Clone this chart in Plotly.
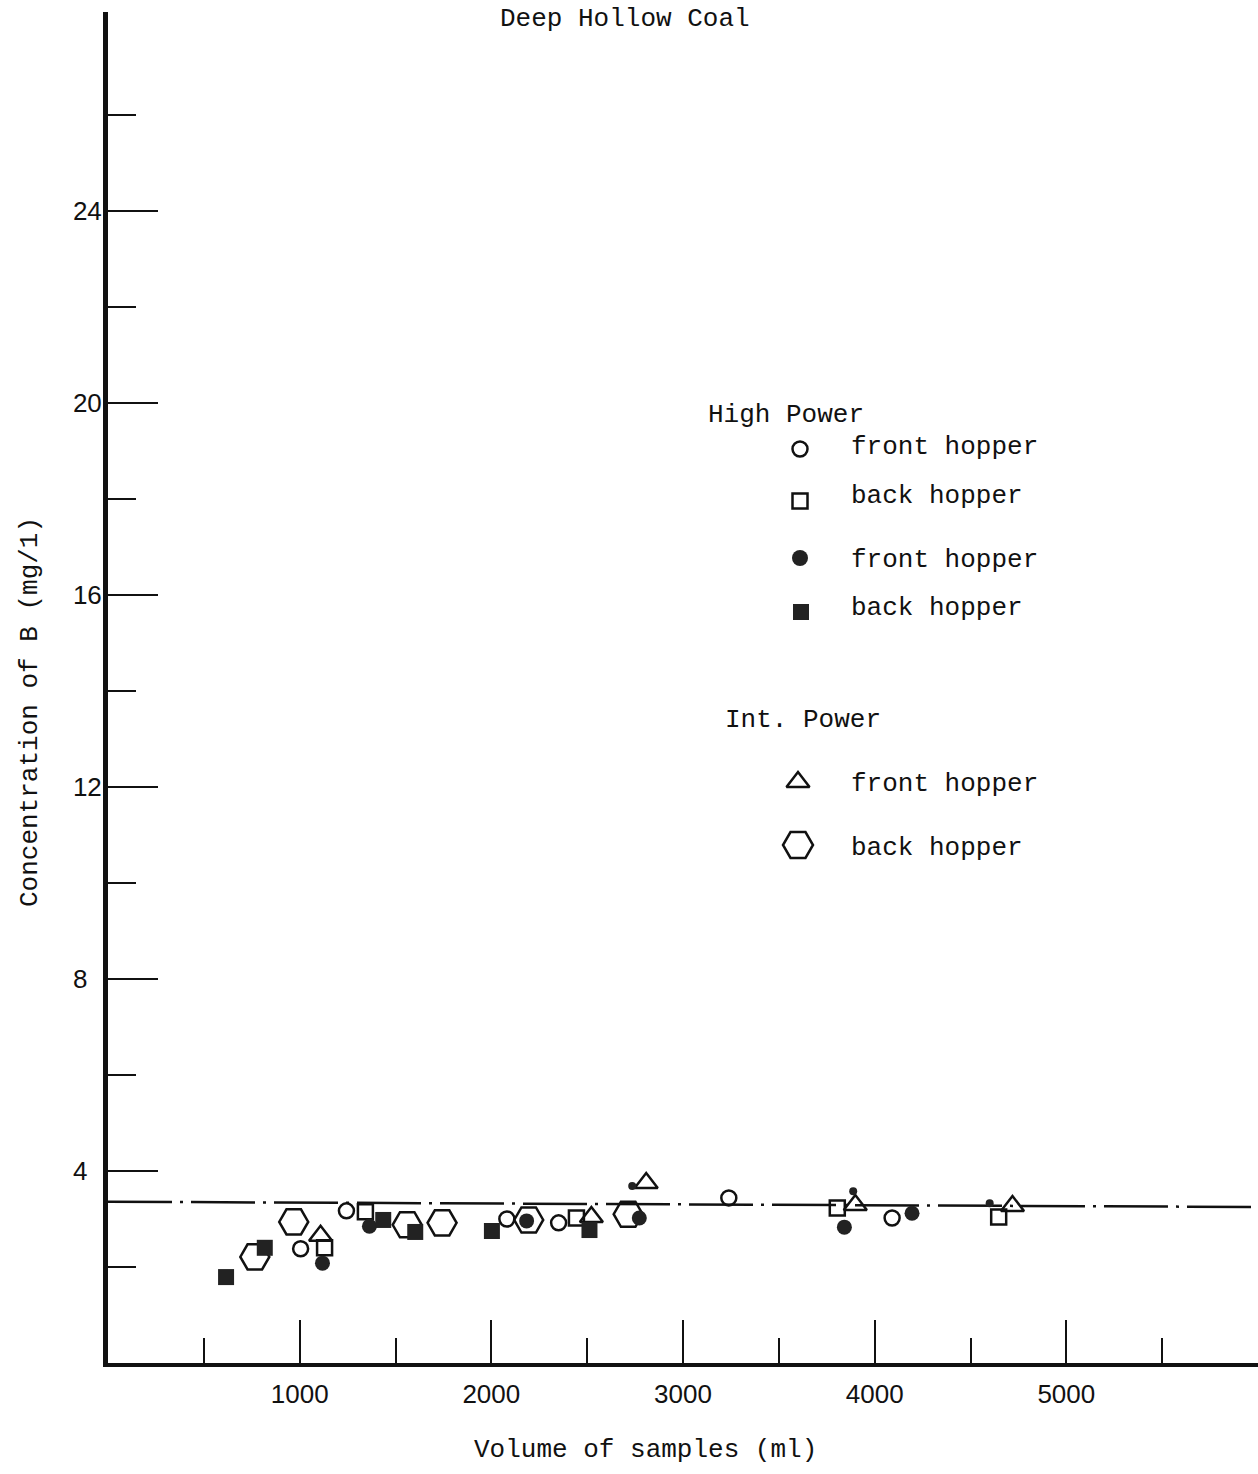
import plotly.graph_objects as go

# ---------------- data ----------------
# High Power, front hopper (open circles)
hp_front_open_x = [1005, 1244, 2081, 2351, 3239, 4091]
hp_front_open_y = [2.38, 3.17, 3.00, 2.92, 3.44, 3.02]
# High Power, back hopper (open squares)
hp_back_open_x = [1130, 1343, 2444, 3805, 4647]
hp_back_open_y = [2.40, 3.15, 3.02, 3.23, 3.04]
# front hopper (filled circles)
front_filled_x = [1119, 1364, 2184, 2772, 3842, 4195]
front_filled_y = [2.08, 2.85, 2.96, 3.02, 2.83, 3.12]
# back hopper (filled squares)
back_filled_x = [616, 818, 1436, 1603, 2003, 2512]
back_filled_y = [1.79, 2.40, 2.98, 2.73, 2.75, 2.77]
# Int. Power, front hopper (triangles)
int_front_x = [1109, 2522, 2808, 3899, 4719]
int_front_y = [2.65, 3.04, 3.75, 3.29, 3.27]
# Int. Power, back hopper (hexagons)
int_back_x = [766, 969, 1561, 1743, 2195, 2714]
int_back_y = [2.21, 2.94, 2.88, 2.92, 2.98, 3.10]
# small unlabelled filled marks
small_x = [2735, 3888, 4600]
small_y = [3.69, 3.58, 3.33]
# mean line (dash-dot)
mean_x = [0, 6000]
mean_y = [3.36, 3.25]

x_major = [1000, 2000, 3000, 4000, 5000, 6000]
x_major_text = ["1000", "2000", "3000", "4000", "5000", ""]
x_minor = [500, 1500, 2500, 3500, 4500, 5500]
y_major = [4, 8, 12, 16, 20, 24]
y_major_text = ["4\u2007", "8\u2007", "12", "16", "20", "24"]
y_minor = [2, 6, 10, 14, 18, 22, 26]

title_text = "Deep Hollow Coal"
x_title = "Volume of samples (ml)"
y_title = "Concentration of B (mg/1)"
legend_groups = ["High Power", "Int. Power"]
legend_labels = ["front hopper", "back hopper", "front hopper", "back hopper",
                 "front hopper", "back hopper"]

# ---------------- figure ----------------
W, H = 1258, 1474
ML, MR, MT, MB = 108, 0, 12, 111
PX_PER_Y = 48.0
y_top = (H - MT - MB) / PX_PER_Y

MONO = "Courier New, Liberation Mono, monospace"
SANS = "Liberation Sans, Arial, sans-serif"
INK = "#111111"
FILL = "#222222"


def px2paper(px, py):
    return (px - ML) / (W - ML - MR), (H - MB - py) / (H - MT - MB)


fig = go.Figure()

fig.add_trace(go.Scatter(x=mean_x, y=mean_y, mode="lines",
                         line=dict(color=INK, width=2.5, dash="64px,8px,3px,8px"),
                         hoverinfo="skip", showlegend=False))


def pts(x, y, symbol, size, filled=False, lw=2.5):
    fig.add_trace(go.Scatter(
        x=x, y=y, mode="markers", showlegend=False, cliponaxis=False,
        marker=dict(symbol=symbol, size=size,
                    color=FILL if filled else INK,
                    line=dict(color=INK, width=0 if filled else lw))))


pts(int_back_x, int_back_y, "hexagon2-open", 29)
pts(hp_front_open_x, hp_front_open_y, "circle-open", 15)
pts(hp_back_open_x, hp_back_open_y, "square-open", 15)
pts(int_front_x, int_front_y, "triangle-up-open", 20)
pts(front_filled_x, front_filled_y, "circle", 15, filled=True)
pts(back_filled_x, back_filled_y, "square", 16, filled=True)
pts(small_x, small_y, "circle", 8, filled=True)

# ---- legend drawn on an overlay axis whose units are page pixels ----
leg_sym = ["circle-open", "square-open", "circle", "square", "triangle-up-open", "hexagon2-open"]
leg_size = [15, 15, 16, 16, 20, 30]
leg_fill = [False, False, True, True, False, False]
leg_px = [800, 800, 800, 801, 798, 798]
leg_py = [449, 501, 558, 612, 782, 845]
leg_ty = [447, 496, 560, 608, 784, 848]
for s, sz, f, px, py in zip(leg_sym, leg_size, leg_fill, leg_px, leg_py):
    fig.add_trace(go.Scatter(
        x=[px], y=[py], xaxis="x2", yaxis="y2", mode="markers", showlegend=False,
        hoverinfo="skip", cliponaxis=False,
        marker=dict(symbol=s, size=sz, color=FILL if f else INK,
                    line=dict(color=INK, width=0 if f else 2.5))))

ann = []


def text_at(px, py, text, xanchor="left", angle=0):
    xp, yp = px2paper(px, py)
    ann.append(dict(x=xp, y=yp, xref="paper", yref="paper", text=text, showarrow=False,
                    xanchor=xanchor, yanchor="middle", textangle=angle,
                    font=dict(family=MONO, size=26, color=INK)))


for lab, ty in zip(legend_labels, leg_ty):
    text_at(849, ty, lab)
text_at(706, 415, legend_groups[0])
text_at(723, 720, legend_groups[1])
text_at(625, 19, title_text, xanchor="center")
text_at(645, 1450, x_title, xanchor="center")
text_at(30, 712, y_title, xanchor="center", angle=-90)

fig.update_layout(
    width=W, height=H, autosize=False,
    margin=dict(l=ML, r=MR, t=MT, b=MB, pad=0),
    paper_bgcolor="white", plot_bgcolor="white",
    showlegend=False,
    annotations=ann,
    xaxis=dict(range=[0, 6000], showgrid=False, zeroline=False,
               showline=True, linecolor=INK, linewidth=4,
               tickmode="array", tickvals=x_major, ticktext=x_major_text,
               ticks="inside", ticklen=43, tickwidth=2, tickcolor=INK,
               ticklabelstandoff=5,
               tickfont=dict(family=SANS, size=26, color=INK),
               minor=dict(tickmode="array", tickvals=x_minor, ticks="inside",
                          ticklen=25, tickwidth=2, tickcolor=INK)),
    yaxis=dict(range=[0, y_top], showgrid=False, zeroline=False,
               showline=True, linecolor=INK, linewidth=5,
               tickmode="array", tickvals=y_major, ticktext=y_major_text,
               ticks="inside", ticklen=50, tickwidth=2, tickcolor=INK,
               ticklabelstandoff=-4,
               tickfont=dict(family=SANS, size=26, color=INK),
               minor=dict(tickmode="array", tickvals=y_minor, ticks="inside",
                          ticklen=28, tickwidth=2, tickcolor=INK)),
    xaxis2=dict(range=[ML, W - MR], overlaying="x", visible=False, fixedrange=True),
    yaxis2=dict(range=[H - MB, MT], overlaying="y", visible=False, fixedrange=True),
)

fig.write_html("out.html", config={"displayModeBar": False},
               post_script="document.body.style.margin='0';document.body.style.overflow='hidden';")
